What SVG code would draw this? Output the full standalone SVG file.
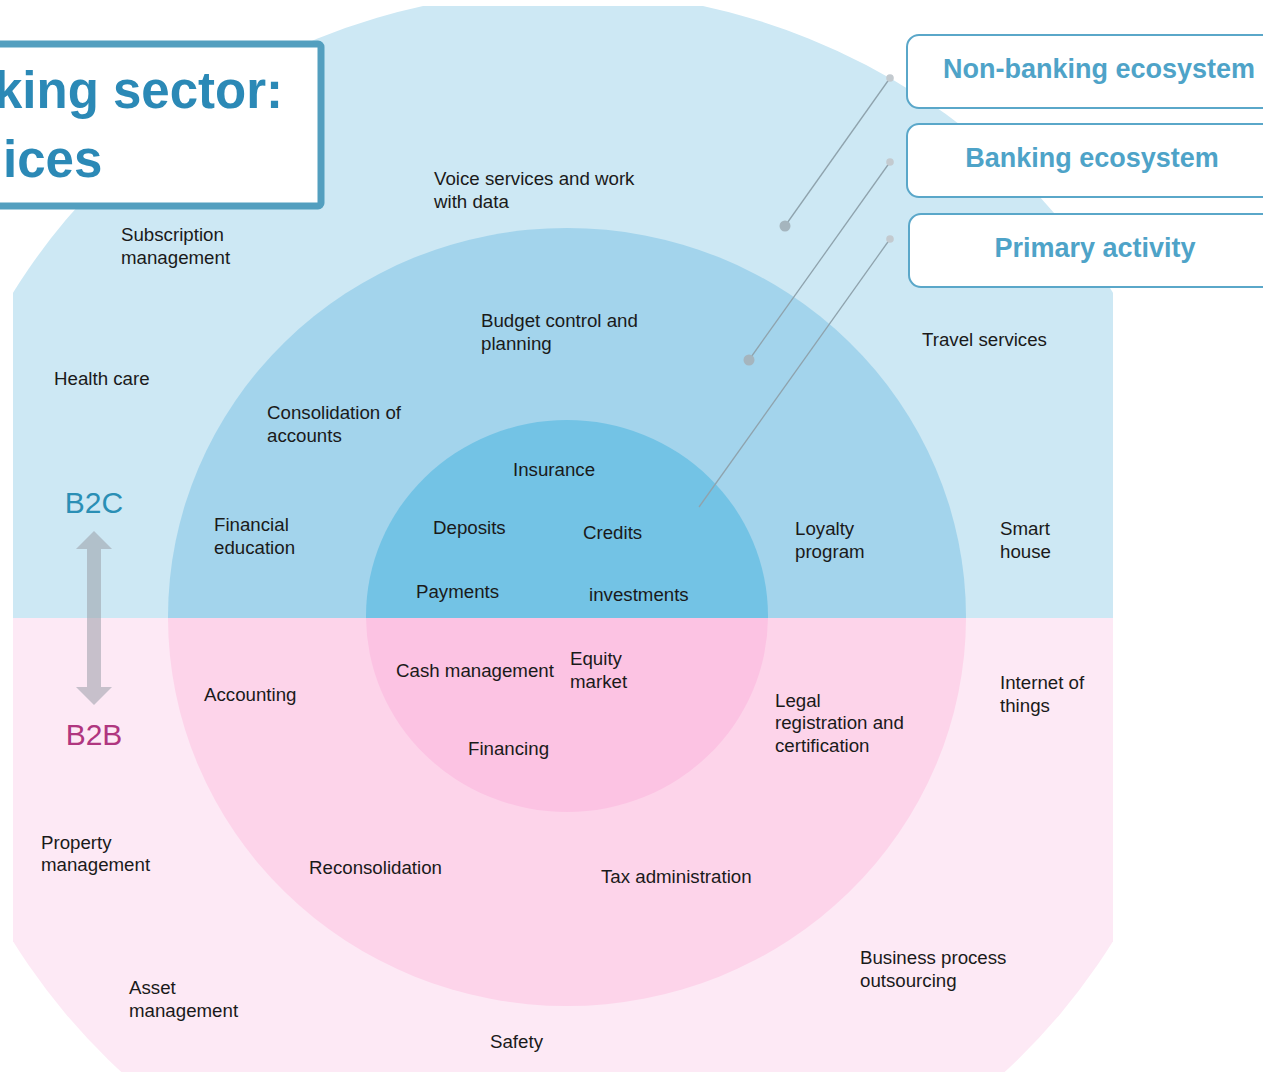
<svg xmlns="http://www.w3.org/2000/svg" width="1263" height="1072" viewBox="0 0 1263 1072">
<defs>
<clipPath id="box"><rect x="13" y="6" width="1100" height="1080"/></clipPath>
<clipPath id="top"><rect x="0" y="0" width="1263" height="618"/></clipPath>
<clipPath id="bot"><rect x="0" y="618" width="1263" height="460"/></clipPath>
<style>
.lb{font-family:"Liberation Sans",Arial,sans-serif;font-size:18.7px;fill:#1a1a1a}
.lg{font-family:"Liberation Sans",Arial,sans-serif;font-size:27px;font-weight:bold;fill:#4ea3c8;text-anchor:middle}
.lgbox{fill:#ffffff;stroke:#5aa7c9;stroke-width:2}
.conn{stroke:#8fa3ad;stroke-width:1.3;fill:none}
.dotS{fill:#c3cacf}
.dotL{fill:#a5b5be}
</style>
</defs>
<rect width="1263" height="1072" fill="#ffffff"/>
<g id="rings" clip-path="url(#box)">
<g clip-path="url(#top)">
<ellipse cx="563" cy="617" rx="643" ry="626" fill="#cde8f4"/>
<ellipse cx="567" cy="617" rx="399" ry="389" fill="#a3d4ec"/>
<ellipse cx="567" cy="616" rx="201" ry="196" fill="#73c3e5"/>
</g>
<g clip-path="url(#bot)">
<ellipse cx="563" cy="617" rx="643" ry="626" fill="#fde9f5"/>
<ellipse cx="567" cy="617" rx="399" ry="389" fill="#fdd4ea"/>
<ellipse cx="567" cy="616" rx="201" ry="196" fill="#fcc3e3"/>
</g>
</g>
<g id="title">
<rect x="-10" y="44" width="331" height="162" rx="3" fill="#ffffff" stroke="#539fbf" stroke-width="7"/>
<text x="-6" y="108" font-family="'Liberation Sans',Arial,sans-serif" font-size="51" font-weight="bold" fill="#2b89b6">king sector:</text>
<text x="3" y="177" font-family="'Liberation Sans',Arial,sans-serif" font-size="51" font-weight="bold" fill="#2b89b6">ices</text>
</g>
<g id="connectors">
<line class="conn" x1="890" y1="78" x2="785" y2="226"/>
<line class="conn" x1="890" y1="162" x2="749" y2="360"/>
<line class="conn" x1="890" y1="239" x2="699" y2="507"/>
<circle class="dotS" cx="890" cy="78" r="3.8"/>
<circle class="dotL" cx="785" cy="226" r="5.5"/>
<circle class="dotS" cx="890" cy="162" r="3.8"/>
<circle class="dotL" cx="749" cy="360" r="5.5"/>
<circle class="dotS" cx="890" cy="239" r="3.8"/>
</g>
<g id="legend-nonbanking">
<rect class="lgbox" x="907" y="35" width="380" height="73" rx="12"/>
<text class="lg" x="1099" y="78">Non-banking ecosystem</text>
</g>
<g id="legend-banking">
<rect class="lgbox" x="907" y="124" width="380" height="73" rx="12"/>
<text class="lg" x="1092" y="167">Banking ecosystem</text>
</g>
<g id="legend-primary">
<rect class="lgbox" x="909" y="214" width="380" height="73" rx="12"/>
<text class="lg" x="1095" y="257">Primary activity</text>
</g>
<g id="b2c-b2b">
<text x="94" y="513" font-family="'Liberation Sans',Arial,sans-serif" font-size="30" fill="#2a8fb5" text-anchor="middle">B2C</text>
<text x="94" y="745" font-family="'Liberation Sans',Arial,sans-serif" font-size="30" fill="#b0367f" text-anchor="middle">B2B</text>
<path d="M94 531 L112 549 L101 549 L101 687 L112 687 L94 705 L76 687 L87 687 L87 549 L76 549 Z" fill="#9a9ea8" fill-opacity="0.55"/>
</g>
<g id="labels">
<g id="n-voice"><text class="lb" x="434" y="185">Voice services and work</text><text class="lb" x="434" y="208">with data</text></g>
<g id="n-subscription"><text class="lb" x="121" y="241">Subscription</text><text class="lb" x="121" y="264">management</text></g>
<g id="n-health"><text class="lb" x="54" y="385">Health care</text></g>
<g id="n-budget"><text class="lb" x="481" y="327">Budget control and</text><text class="lb" x="481" y="350">planning</text></g>
<g id="n-travel"><text class="lb" x="922" y="346">Travel services</text></g>
<g id="n-consolidation"><text class="lb" x="267" y="419">Consolidation of</text><text class="lb" x="267" y="442">accounts</text></g>
<g id="n-insurance"><text class="lb" x="513" y="476">Insurance</text></g>
<g id="n-financial"><text class="lb" x="214" y="531">Financial</text><text class="lb" x="214" y="554">education</text></g>
<g id="n-deposits"><text class="lb" x="433" y="534">Deposits</text></g>
<g id="n-credits"><text class="lb" x="583" y="539">Credits</text></g>
<g id="n-loyalty"><text class="lb" x="795" y="535">Loyalty</text><text class="lb" x="795" y="558">program</text></g>
<g id="n-smart"><text class="lb" x="1000" y="535">Smart</text><text class="lb" x="1000" y="558">house</text></g>
<g id="n-payments"><text class="lb" x="416" y="598">Payments</text></g>
<g id="n-investments"><text class="lb" x="589" y="601">investments</text></g>
<g id="n-cash"><text class="lb" x="396" y="677">Cash management</text></g>
<g id="n-equity"><text class="lb" x="570" y="665">Equity</text><text class="lb" x="570" y="688">market</text></g>
<g id="n-accounting"><text class="lb" x="204" y="701">Accounting</text></g>
<g id="n-iot"><text class="lb" x="1000" y="689">Internet of</text><text class="lb" x="1000" y="712">things</text></g>
<g id="n-legal"><text class="lb" x="775" y="707">Legal</text><text class="lb" x="775" y="729">registration and</text><text class="lb" x="775" y="752">certification</text></g>
<g id="n-financing"><text class="lb" x="468" y="755">Financing</text></g>
<g id="n-property"><text class="lb" x="41" y="849">Property</text><text class="lb" x="41" y="871">management</text></g>
<g id="n-reconsolidation"><text class="lb" x="309" y="874">Reconsolidation</text></g>
<g id="n-tax"><text class="lb" x="601" y="883">Tax administration</text></g>
<g id="n-bpo"><text class="lb" x="860" y="964">Business process</text><text class="lb" x="860" y="987">outsourcing</text></g>
<g id="n-asset"><text class="lb" x="129" y="994">Asset</text><text class="lb" x="129" y="1017">management</text></g>
<g id="n-safety"><text class="lb" x="490" y="1048">Safety</text></g>
</g>
</svg>
